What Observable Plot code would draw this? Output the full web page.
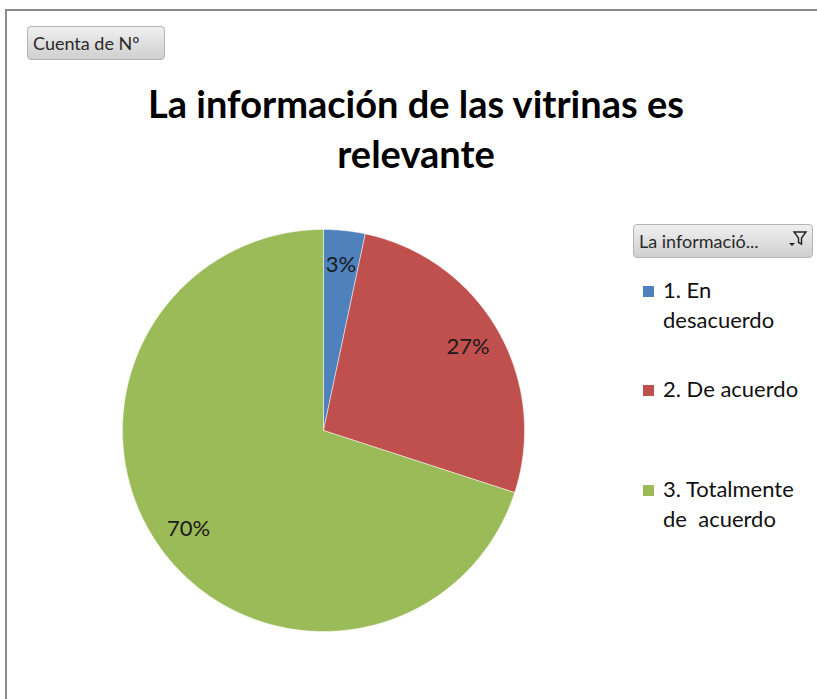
<!DOCTYPE html>
<html>
<head>
<meta charset="utf-8">
<script src="https://cdn.jsdelivr.net/npm/d3@7"></script>
<script src="https://cdn.jsdelivr.net/npm/@observablehq/plot@0.6"></script>
<style>
  html, body { margin: 0; padding: 0; background: #fff; }
  #wrap { position: relative; width: 817px; height: 699px; overflow: hidden; font-family: Lato, "Open Sans", sans-serif; color: #000; }
  #wrap > svg { position: absolute; left: 0; top: 0; }
  .frame-top { position: absolute; left: 5px; top: 9px; width: 820px; height: 2px; background: #8a8a8a; }
  .frame-left { position: absolute; left: 5px; top: 9px; width: 2px; height: 700px; background: #8a8a8a; }
  .btn { position: absolute; box-sizing: border-box; border: 1px solid #b4b4b4; border-radius: 4px;
         background: linear-gradient(#f0f0f0, #cfcfcf); color: #2a2a2a; padding-left: 5px; white-space: nowrap; }
  .title { position: absolute; left: 0; width: 832px; text-align: center; font-weight: bold; font-size: 38px; }
  .leg { position: absolute; left: 663px; font-size: 22px; line-height: 30px; white-space: pre; color: #111; }
  .sw { position: absolute; left: 643px; width: 11px; height: 11px; }
</style>
</head>
<body>
<div id="wrap"></div>
<script>
const categories = ["1. En desacuerdo", "2. De acuerdo", "3. Totalmente de acuerdo"];
const legendLines = [["1. En", "desacuerdo"], ["2. De acuerdo"], ["3. Totalmente", "de  acuerdo"]];
const counts = [1, 8, 21];
const colors = ["#4F81BD", "#C0504D", "#9BBB59"];
const chartTitle = ["La información de las vitrinas es", "relevante"];
const fieldButton = "Cuenta de Nº";
const legendButton = "La informació...";

const total = d3.sum(counts);
const slices = [];
let acc = 0;
counts.forEach((v, i) => {
  const a0 = acc / total * 2 * Math.PI;
  acc += v;
  const a1 = acc / total * 2 * Math.PI;
  slices.push({cat: categories[i], a0, a1, pct: Math.round(v / total * 100) + "%"});
});

const pts = [];
for (const s of slices) {
  pts.push({cat: s.cat, x: 0, y: 0});
  const n = Math.max(2, Math.ceil((s.a1 - s.a0) / (Math.PI / 360)));
  for (let k = 0; k <= n; k++) {
    const a = s.a0 + (s.a1 - s.a0) * k / n;
    pts.push({cat: s.cat, x: Math.sin(a), y: Math.cos(a)});
  }
  pts.push({cat: s.cat, x: 0, y: 0});
}
const labels = slices.map(s => {
  const m = (s.a0 + s.a1) / 2;
  const r = 0.83;
  return {x: r * Math.sin(m), y: r * Math.cos(m), text: s.pct};
});

const chart = Plot.plot({
  width: 817, height: 699, margin: 0,
  x: {domain: [-1, 1], range: [122, 524], axis: null},
  y: {domain: [-1, 1], range: [631, 229], axis: null},
  color: {domain: categories, range: colors},
  style: {background: "transparent", fontFamily: "Lato, 'Open Sans', sans-serif"},
  marks: [
    Plot.line(pts, {x: "x", y: "y", z: "cat", fill: "cat", stroke: "white", strokeWidth: 0.6, strokeOpacity: 0.8}),
    Plot.text(labels, {x: "x", y: "y", text: "text", fontSize: 22, fill: "#1a1a1a"})
  ]
});

const wrap = document.getElementById("wrap");
wrap.appendChild(chart);
wrap.insertAdjacentHTML("beforeend", `<div class="frame-top"></div><div class="frame-left"></div>`);

const b1 = document.createElement("div");
b1.className = "btn";
Object.assign(b1.style, {left: "27px", top: "26px", width: "138px", height: "34px", lineHeight: "32px", fontSize: "18px"});
b1.textContent = fieldButton;
wrap.appendChild(b1);

chartTitle.forEach((t, i) => {
  const d = document.createElement("div");
  d.className = "title";
  d.style.top = (80 + i * 50) + "px";
  d.textContent = t;
  wrap.appendChild(d);
});

const b2 = document.createElement("div");
b2.className = "btn";
Object.assign(b2.style, {left: "633px", top: "224px", width: "180px", height: "34px", lineHeight: "32px", fontSize: "18px"});
b2.textContent = legendButton;
b2.insertAdjacentHTML("beforeend", `<svg width="24" height="24" viewBox="0 0 24 24" style="position:absolute;right:3px;top:3px"><path d="M4 15 l3 3 l3 -3z" fill="#222"/><path d="M9 4 h12 l-4.5 6 v6 l-3 -1.5 v-4.5z" fill="none" stroke="#222" stroke-width="1.4"/></svg>`);
wrap.appendChild(b2);

const legTops = [275, 374, 474];
legendLines.forEach((lines, i) => {
  const sw = document.createElement("div");
  sw.className = "sw";
  sw.style.top = (legTops[i] + 11) + "px";
  sw.style.background = colors[i];
  wrap.appendChild(sw);
  const d = document.createElement("div");
  d.className = "leg";
  d.style.top = legTops[i] + "px";
  d.textContent = lines.join("\n");
  wrap.appendChild(d);
});
</script>
</body>
</html>
